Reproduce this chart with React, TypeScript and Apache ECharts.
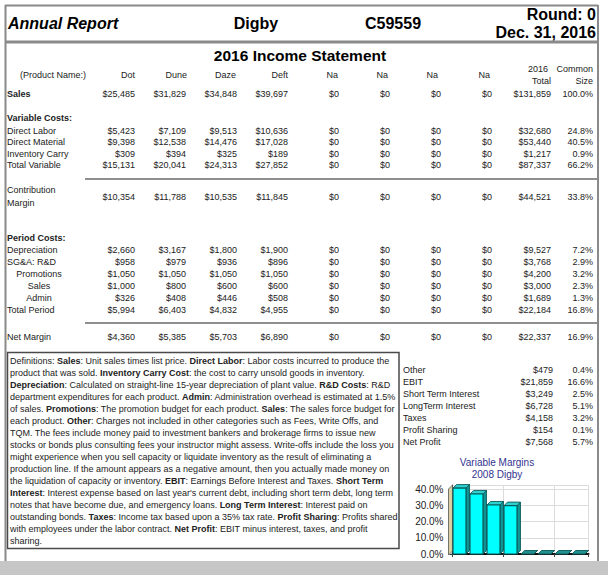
import React, { useEffect, useRef } from "react";
import * as echarts from "echarts";

const FONT = '"Liberation Sans", Arial, Helvetica, sans-serif';
const INK = "#222222";

// ---------- data ----------
const products = ["Dot", "Dune", "Daze", "Deft", "Na", "Na", "Na", "Na"];
const salesValues = [25485, 31829, 34848, 39697, 0, 0, 0, 0];
const directLabor = [5423, 7109, 9513, 10636, 0, 0, 0, 0];
const directMaterial = [9398, 12538, 14476, 17028, 0, 0, 0, 0];
const inventoryCarry = [309, 394, 325, 189, 0, 0, 0, 0];
const totalVariable = [15131, 20041, 24313, 27852, 0, 0, 0, 0];
const contributionMargin = [10354, 11788, 10535, 11845, 0, 0, 0, 0];
const depreciation = [2660, 3167, 1800, 1900, 0, 0, 0, 0];
const sgaRD = [958, 979, 936, 896, 0, 0, 0, 0];
const promotions = [1050, 1050, 1050, 1050, 0, 0, 0, 0];
const salesForce = [1000, 800, 600, 600, 0, 0, 0, 0];
const admin = [326, 408, 446, 508, 0, 0, 0, 0];
const totalPeriod = [5994, 6403, 4832, 4955, 0, 0, 0, 0];
const netMargin = [4360, 5385, 5703, 6890, 0, 0, 0, 0];

const rowTotals = [131859, 32680, 53440, 1217, 87337, 44521, 9527, 3768, 4200, 3000, 1689, 22184, 22337];
const rowCommonSize = [100.0, 24.8, 40.5, 0.9, 66.2, 33.8, 7.2, 2.9, 3.2, 2.3, 1.3, 16.8, 16.9];

const summaryLabels = ["Other", "EBIT", "Short Term Interest", "LongTerm Interest", "Taxes", "Profit Sharing", "Net Profit"];
const summaryValues = [479, 21859, 3249, 6728, 4158, 154, 7568];
const summaryCommonSize = [0.4, 16.6, 2.5, 5.1, 3.2, 0.1, 5.7];

const variableMargins = [40.6, 37.0, 30.2, 29.8, 0, 0, 0, 0];
const marginTicks = [0, 10, 20, 30, 40];

const definitionLines = [
  "Definitions: {b|Sales}: Unit sales times list price. {b|Direct Labor}: Labor costs incurred to produce the",
  "product that was sold. {b|Inventory Carry Cost}: the cost to carry unsold goods in inventory.",
  "{b|Depreciation}: Calculated on straight-line 15-year depreciation of plant value. {b|R&D Costs}: R&D",
  "department expenditures for each product. {b|Admin}: Administration overhead is estimated at 1.5%",
  "of sales. {b|Promotions}: The promotion budget for each product. {b|Sales}: The sales force budget for",
  "each product. {b|Other}: Charges not included in other categories such as Fees, Write Offs, and",
  "TQM. The fees include money paid to investment bankers and brokerage firms to issue new",
  "stocks or bonds plus consulting fees your instructor might assess. Write-offs include the loss you",
  "might experience when you sell capacity or liquidate inventory as the result of eliminating a",
  "production line. If the amount appears as a negative amount, then you actually made money on",
  "the liquidation of capacity or inventory. {b|EBIT}: Earnings Before Interest and Taxes. {b|Short Term}",
  "{b|Interest}: Interest expense based on last year's current debt, including short term debt, long term",
  "notes that have become due, and emergency loans. {b|Long Term Interest}: Interest paid on",
  "outstanding bonds. {b|Taxes}: Income tax based upon a 35% tax rate. {b|Profit Sharing}: Profits shared",
  "with employees under the labor contract. {b|Net Profit}: EBIT minus interest, taxes, and profit",
  "sharing.",
];

// ---------- layout ----------
const tableRows = [
  { label: "Sales", values: salesValues, y: 94, bold: true, indent: false },
  { label: "Direct Labor", values: directLabor, y: 130.5, bold: false, indent: false },
  { label: "Direct Material", values: directMaterial, y: 142, bold: false, indent: false },
  { label: "Inventory Carry", values: inventoryCarry, y: 153.5, bold: false, indent: false },
  { label: "Total Variable", values: totalVariable, y: 165, bold: false, indent: false },
  { label: "Contribution\nMargin", values: contributionMargin, y: 196.5, bold: false, indent: false },
  { label: "Depreciation", values: depreciation, y: 250, bold: false, indent: false },
  { label: "SG&A: R&D", values: sgaRD, y: 262, bold: false, indent: false },
  { label: "Promotions", values: promotions, y: 274, bold: false, indent: true },
  { label: "Sales", values: salesForce, y: 286, bold: false, indent: true },
  { label: "Admin", values: admin, y: 298, bold: false, indent: true },
  { label: "Total Period", values: totalPeriod, y: 310, bold: false, indent: false },
  { label: "Net Margin", values: netMargin, y: 337, bold: false, indent: false },
];
const colRight = [135, 186, 237, 288, 339, 390, 441, 492];
const headerRight = [135, 187, 236, 288, 338, 388, 438, 490];
const totalRight = 551;
const pctRight = 593;

const money = (v: number) => "$" + v.toLocaleString("en-US");
const pct = (v: number) => v.toFixed(1) + "%";

function txt(x: number, y: number, text: string, o: any = {}) {
  return {
    type: "text",
    x,
    y,
    silent: true,
    z: o.z ?? 10,
    style: {
      text,
      fill: o.fill ?? INK,
      fontFamily: FONT,
      fontSize: o.size ?? 9,
      fontWeight: o.weight ?? "normal",
      fontStyle: o.style ?? "normal",
      align: o.align ?? "left",
      verticalAlign: "middle",
      lineHeight: o.lineHeight,
      rich: o.rich,
    },
  };
}

function hline(x1: number, x2: number, y: number, color: string, w: number) {
  return { type: "line", silent: true, z: 5, shape: { x1, y1: y, x2, y2: y }, style: { stroke: color, lineWidth: w } };
}
function vline(x: number, y1: number, y2: number, color: string, w: number) {
  return { type: "line", silent: true, z: 5, shape: { x1: x, y1, x2: x, y2 }, style: { stroke: color, lineWidth: w } };
}

function buildGraphics() {
  const g: any[] = [];
  const frame = "#8a8a8a";
  // frame
  g.push(hline(5, 598, 5.5, frame, 2));
  g.push(hline(5, 598, 42, frame, 3));
  g.push(vline(5.5, 5, 562, frame, 2));
  g.push(vline(598, 5, 562, frame, 2));

  // header
  g.push(txt(8, 23, "Annual Report", { size: 16, weight: "bold", style: "italic", fill: "#000" }));
  g.push(txt(256, 23, "Digby", { size: 16, weight: "bold", align: "center", fill: "#000" }));
  g.push(txt(393, 23, "C59559", { size: 16, weight: "bold", align: "center", fill: "#000" }));
  g.push(txt(596, 14, "Round: 0", { size: 16, weight: "bold", align: "right", fill: "#000" }));
  g.push(txt(596, 32, "Dec. 31, 2016", { size: 16, weight: "bold", align: "right", fill: "#000" }));
  g.push(txt(300, 55, "2016 Income Statement", { size: 15.5, weight: "bold", align: "center", fill: "#000" }));

  // column headers
  g.push(txt(53, 75, "(Product Name:)", { align: "center" }));
  products.forEach((p, i) => g.push(txt(headerRight[i], 75, p, { align: "right" })));
  g.push(txt(totalRight - 3, 68.5, "2016", { align: "right" }));
  g.push(txt(totalRight, 80.5, "Total", { align: "right" }));
  g.push(txt(pctRight, 68.5, "Common", { align: "right" }));
  g.push(txt(pctRight, 80.5, "Size", { align: "right" }));

  // sections
  g.push(txt(7, 118, "Variable Costs:", { weight: "bold" }));
  g.push(txt(7, 238, "Period Costs:", { weight: "bold" }));

  tableRows.forEach((r, ri) => {
    if (r.indent) g.push(txt(39, r.y, r.label, { align: "center" }));
    else g.push(txt(7, r.y, r.label, { weight: r.bold ? "bold" : "normal", lineHeight: 13 }));
    r.values.forEach((v, i) => g.push(txt(colRight[i], r.y, money(v), { align: "right" })));
    g.push(txt(totalRight, r.y, money(rowTotals[ri]), { align: "right" }));
    g.push(txt(pctRight, r.y, pct(rowCommonSize[ri]), { align: "right" }));
  });

  // separators
  g.push(hline(85, 597, 179, "#8f8f8f", 2));
  g.push(hline(85, 597, 323, "#8f8f8f", 2));

  // definitions box
  g.push({
    type: "rect",
    silent: true,
    z: 4,
    shape: { x: 7.5, y: 352.5, width: 391.5, height: 196 },
    style: { fill: "#fff", stroke: "#4a4a4a", lineWidth: 1.5 },
  });
  definitionLines.forEach((line, i) =>
    g.push(
      txt(10, 360.5 + i * 12, line, {
        rich: { b: { fontFamily: FONT, fontSize: 9, fontWeight: "bold", fill: INK } },
      })
    )
  );

  // summary panel
  summaryLabels.forEach((l, i) => {
    const y = 370 + i * 12;
    g.push(txt(403, y, l));
    g.push(txt(553, y, money(summaryValues[i]), { align: "right" }));
    g.push(txt(593, y, pct(summaryCommonSize[i]), { align: "right" }));
  });

  // chart titles
  g.push(txt(497, 462, "Variable Margins", { size: 10, align: "center", fill: "#33338f" }));
  g.push(txt(497, 474, "2008 Digby", { size: 10, align: "center", fill: "#33338f" }));

  // left wall of the 3D plot
  g.push({
    type: "polygon",
    silent: true,
    z: 1,
    shape: { points: [[448.5, 489], [452.5, 485], [452.5, 551], [448.5, 555]] },
    style: { fill: "#d8d0a0", stroke: "#555", lineWidth: 0.8 },
  });

  // bottom grey band
  g.push({
    type: "rect",
    silent: true,
    z: 100,
    shape: { x: 0, y: 561, width: 608, height: 14 },
    style: { fill: "#c6c6c6" },
  });
  return g;
}

function renderBar3D(params: any, api: any) {
  const idx = api.value(0);
  const v = api.value(1);
  const base = api.coord([idx, 0]);
  const top = api.coord([idx, v]);
  const band = api.size([1, 0])[0];
  const w = band * 0.76;
  const d = 3.5;
  const x0 = base[0] - w / 2 - 1.5;
  const yTop = top[1];
  const yBase = base[1];
  const edge = "#0b5a5a";
  const children: any[] = [
    {
      type: "polygon",
      shape: { points: [[x0 + w, yTop], [x0 + w + d, yTop - d], [x0 + w + d, yBase - d], [x0 + w, yBase]] },
      style: { fill: "#119494", stroke: edge, lineWidth: 0.9 },
    },
    {
      type: "polygon",
      shape: { points: [[x0, yTop], [x0 + d, yTop - d], [x0 + w + d, yTop - d], [x0 + w, yTop]] },
      style: { fill: v > 0 ? "#2fd0d0" : "#1f8f8f", stroke: edge, lineWidth: 0.9 },
    },
  ];
  if (yBase - yTop > 0.5) {
    children.push({
      type: "rect",
      shape: { x: x0, y: yTop, width: w, height: yBase - yTop },
      style: { fill: "#00ffff", stroke: edge, lineWidth: 1.1 },
    });
  }
  return { type: "group", children };
}

function buildOption(): any {
  return {
    animation: false,
    backgroundColor: "#ffffff",
    grid: { left: 452.5, top: 485, width: 136, height: 69 },
    xAxis: {
      type: "category",
      data: products,
      axisLine: { show: true, lineStyle: { color: "#111", width: 2 } },
      axisTick: { show: true, length: 3, lineStyle: { color: "#444" } },
      axisLabel: { show: false },
      splitLine: { show: true, lineStyle: { color: "#dcdcdc", width: 1 } },
    },
    yAxis: {
      type: "value",
      min: 0,
      max: 42.5,
      interval: 10,
      axisLine: { show: true, lineStyle: { color: "#333", width: 1 } },
      axisTick: { show: true, length: 3, lineStyle: { color: "#333" } },
      axisLabel: {
        show: true,
        showMaxLabel: false,
        margin: 9,
        fontFamily: FONT,
        fontSize: 10,
        color: INK,
        formatter: (v: number) => (marginTicks.indexOf(v) >= 0 ? v.toFixed(1) + "%" : ""),
      },
      splitLine: { show: true, lineStyle: { color: "#dcdcdc", width: 1 } },
    },
    graphic: { elements: buildGraphics() },
    series: [
      {
        type: "custom",
        renderItem: renderBar3D,
        data: variableMargins.map((v, i) => [i, v]),
        encode: { x: 0, y: 1 },
        z: 3,
      },
    ],
  };
}

export default function App() {
  const ref = useRef<HTMLDivElement>(null);
  useEffect(() => {
    const chart = echarts.init(ref.current!, null, { renderer: "svg" });
    chart.setOption(buildOption());
    return () => chart.dispose();
  }, []);
  return (
    <div
      ref={ref}
      style={{ position: "fixed", left: 0, top: 0, width: 608, height: 575, background: "#fff" }}
    />
  );
}
